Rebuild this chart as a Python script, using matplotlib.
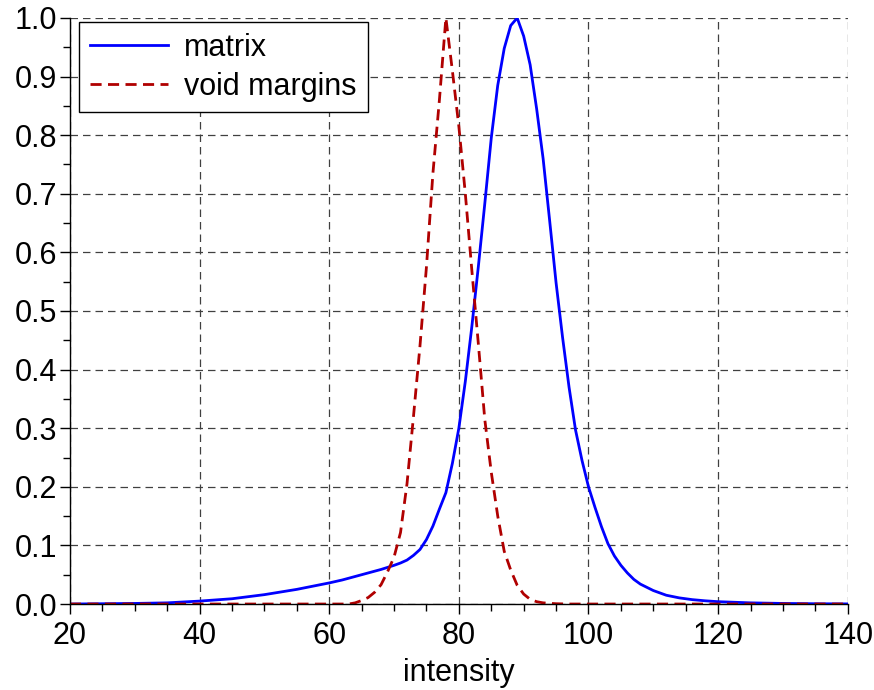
import matplotlib
matplotlib.use("Agg")
import matplotlib.pyplot as plt
from matplotlib.ticker import MultipleLocator

plt.rcParams['font.family'] = ['Liberation Sans', 'DejaVu Sans']

# matrix curve
matrix_x = [20, 25, 30, 35, 40, 45, 50, 55, 60, 62, 64, 66, 68, 70, 71, 72, 73,
            74, 75, 76, 77, 78, 79, 80, 81, 82, 83, 84, 85, 86, 87, 88, 89, 90,
            91, 92, 93, 94, 95, 96, 97, 98, 99, 100, 101, 102, 103, 104, 105,
            106, 107, 108, 110, 112, 114, 116, 118, 120, 125, 130, 135, 140]
matrix_y = [0.0, 0.0005, 0.001, 0.002, 0.005, 0.009, 0.016, 0.025, 0.036, 0.041,
            0.047, 0.053, 0.059, 0.066, 0.070, 0.075, 0.083, 0.093, 0.110, 0.133,
            0.162, 0.190, 0.240, 0.300, 0.380, 0.473, 0.575, 0.683, 0.795, 0.885,
            0.948, 0.987, 1.0, 0.969, 0.920, 0.845, 0.760, 0.655, 0.548, 0.455,
            0.370, 0.297, 0.245, 0.200, 0.165, 0.132, 0.103, 0.082, 0.066, 0.053,
            0.042, 0.034, 0.023, 0.015, 0.0105, 0.0075, 0.0055, 0.004, 0.002,
            0.001, 0.0005, 0.0002]

# void margins curve
void_x = [20, 40, 60, 63, 64, 65, 66, 67, 68, 69, 70, 71, 72, 73, 74, 75, 76,
          77, 78, 79, 80, 81, 82, 83, 84, 85, 86, 87, 88, 89, 90, 91, 92, 93,
          95, 97, 110, 140]
void_y = [0.0, 0.0, 0.0, 0.0, 0.002, 0.006, 0.011, 0.020, 0.033, 0.055, 0.080,
          0.122, 0.205, 0.320, 0.440, 0.575, 0.735, 0.860, 1.0, 0.910, 0.815,
          0.700, 0.570, 0.445, 0.315, 0.225, 0.150, 0.090, 0.058, 0.032, 0.017,
          0.008, 0.004, 0.002, 0.0005, 0.0, 0.0, 0.0]

fig = plt.figure(figsize=(8.74, 6.9), dpi=100)
ax = fig.add_axes([0.080, 0.1246, 0.890, 0.8494])

ax.plot(matrix_x, matrix_y, color='#0000ff', lw=2.0, label='matrix')
ax.plot(void_x, void_y, color='#b00000', lw=2.0, ls=(0, (4.0, 2.3)), label='void margins')

ax.set_xlim(20, 140)
ax.set_ylim(0, 1.0)
ax.xaxis.set_major_locator(MultipleLocator(20))
ax.xaxis.set_minor_locator(MultipleLocator(5))
ax.yaxis.set_major_locator(MultipleLocator(0.1))
ax.yaxis.set_minor_locator(MultipleLocator(0.05))
ax.yaxis.set_major_formatter(lambda v, p: f"{v:.1f}")

ax.grid(True, which='major', color='0.25', lw=0.9, ls=(0, (6, 4)))
ax.set_axisbelow(True)

for s in ['top', 'right']:
    ax.spines[s].set_visible(False)
for s in ['left', 'bottom']:
    ax.spines[s].set_linewidth(1.0)

ax.tick_params(which='major', length=7, width=1, labelsize=22)
ax.tick_params(which='minor', length=5, width=1)
ax.tick_params(axis='x', which='major', pad=5)
ax.tick_params(axis='y', which='major', pad=2)

ax.set_xlabel('intensity', fontsize=22, labelpad=5)

leg = ax.legend(loc='upper left', bbox_to_anchor=(9 / 778, 1 - 4 / 586),
                fontsize=22, frameon=True, fancybox=False,
                edgecolor='black', framealpha=1, handlelength=2.55,
                handletextpad=0.55, borderaxespad=0, borderpad=0.35,
                labelspacing=0.3)
leg.get_frame().set_linewidth(1.0)

fig.savefig('out.png', dpi=100)
